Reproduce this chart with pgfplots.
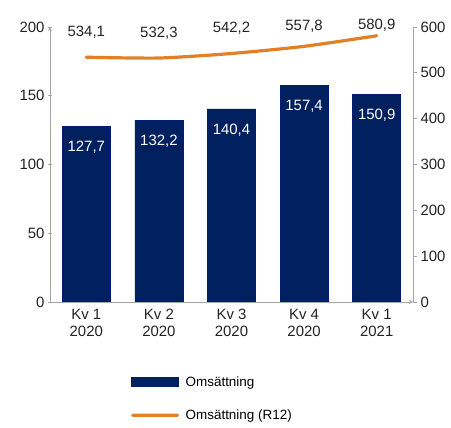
\documentclass[border=0pt]{standalone}
\usepackage{pgfplots}
\pgfplotsset{compat=1.18}
\usepackage{pgfplotstable}
\usepackage{fontspec}
\setmainfont{Liberation Sans}
\usetikzlibrary{calc}

\definecolor{navy}{RGB}{0,32,96}
\definecolor{orangeline}{RGB}{226,128,38}
\definecolor{axisgray}{RGB}{165,165,165}
\definecolor{textgray}{RGB}{35,35,35}

% quarterly sales
\pgfplotstableread{
x y
0 127.7
1 132.2
2 140.4
3 157.4
4 150.9
}\kvartal

% rolling 12 months, dy = label offset in bp
\pgfplotstableread{
x y dy
0 534.1 25
1 532.3 25
2 542.2 25
3 557.8 20
4 580.9 11
}\rtolv

\begin{document}
\begin{tikzpicture}[font=\fontsize{15}{17}\selectfont]
\pgfplotsset{
  base/.style={
    scale only axis, width=363bp, height=275bp,
    xmin=-0.5, xmax=4.5, ymin=0,
    enlarge x limits=false,
    axis line style={-, axisgray, line width=0.8bp},
    tick style={axisgray, line width=0.8bp},
    tick align=outside, major tick length=4bp,
    ticklabel style={textgray},
    /pgf/number format/assume math mode=true,
  },
}
\begin{axis}[base, name=ax,
  ymax=200, ytick={0,50,...,200},
  axis x line=bottom, axis y line=left,
  xtick={0,...,4},
  xticklabels={{Kv 1\\2020},{Kv 2\\2020},{Kv 3\\2020},{Kv 4\\2020},{Kv 1\\2021}},
  xticklabel style={align=center, text=textgray},
  x tick style={draw=none},
  ybar, bar width=48bp,
  nodes near coords={\pgfmathprintnumber[use comma,fixed,fixed zerofill,precision=1]{\pgfplotspointmeta}},
  nodes near coords style={white, anchor=center, yshift=-21bp},
]
  \addplot[fill=navy, draw=navy!85!blue, line width=0.6bp] table[x=x, y=y] {\kvartal};
\end{axis}

\begin{axis}[base,
  ymax=600, ytick={0,100,...,600},
  axis y line*=right, axis x line=none,
  legend style={at={(0.223,-0.27)}, anchor=north west, draw=none, fill=none,
    font=\fontsize{13.5}{15}\selectfont, row sep=22bp, inner sep=0pt,
    nodes={inner xsep=2.5bp, inner ysep=0pt}},
  legend cell align=left,
]
  \addlegendimage{legend image code/.code={
    \fill[navy, draw=none] (0bp,-5bp) rectangle (48bp,5bp);
    \path[draw=none, fill=none] (0bp,0bp) rectangle (52bp,0.1bp);}}
  \addlegendentry{Omsättning}
  \addplot[orangeline, line width=3.2bp, line cap=round, smooth, tension=0.4,
    legend image code/.code={
      \fill[orangeline, draw=none, rounded corners=1.6bp] (0bp,-1.6bp) rectangle (48bp,1.6bp);
      \path[draw=none, fill=none] (0bp,0bp) rectangle (52bp,0.1bp);},
    visualization depends on={\thisrow{dy} \as \dy},
    nodes near coords={\pgfmathprintnumber[use comma,fixed,fixed zerofill,precision=1]{\pgfplotspointmeta}},
    nodes near coords style={textgray, anchor=center, yshift=\dy bp},
  ] table[x=x, y=y] {\rtolv};
  \addlegendentry{Omsättning (R12)}
\end{axis}

\path[use as bounding box] ($(ax.south west)+(-50bp,-126bp)$) rectangle ($(ax.north east)+(38bp,27bp)$);
\end{tikzpicture}
\end{document}
